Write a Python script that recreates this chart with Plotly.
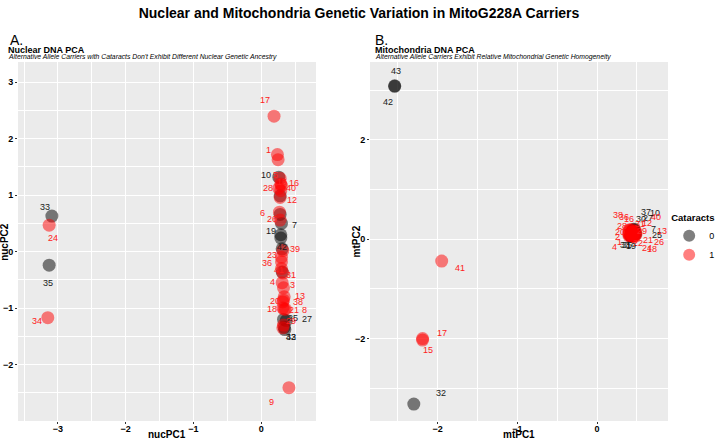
import plotly.graph_objects as go

# ---------------- data ----------------
# Panel A: nuclear PCA (sample id, cataract status, PC1, PC2)
nuc_id  = [17, 1, 2, 10, 5, 15, 16, 28, 40, 11, 12, 6, 37, 26, 7, 19, 14, 42, 39, 23, 36, 41, 31, 30,
           4, 3, 13, 38, 20, 18, 21, 8, 25, 27, 29, 22, 43, 32, 9, 33, 24, 35, 34]
nuc_cat = [1, 1, 1, 0, 1, 1, 1, 1, 1, 0, 1, 1, 0, 1, 0, 0, 0, 0, 1, 1, 1, 1, 1, 0,
           1, 1, 1, 1, 1, 1, 1, 1, 0, 0, 1, 1, 0, 0, 1, 0, 1, 0, 1]
nuc_pc1 = [0.19, 0.24, 0.25, 0.26, 0.28, 0.29, 0.30, 0.26, 0.29, 0.28, 0.28, 0.27, 0.28, 0.28, 0.30, 0.29, 0.29, 0.31, 0.32, 0.30, 0.30, 0.30, 0.32, 0.31,
           0.31, 0.33, 0.34, 0.33, 0.32, 0.32, 0.34, 0.36, 0.33, 0.37, 0.33, 0.32, 0.34, 0.35, 0.41, -3.09, -3.13, -3.13, -3.15]
nuc_pc2 = [2.40, 1.72, 1.63, 1.32, 1.30, 1.20, 1.17, 1.12, 1.08, 0.99, 0.96, 0.70, 0.66, 0.56, 0.50, 0.30, 0.24, 0.05, 0.02, -0.10, -0.18, -0.30, -0.38, -0.36,
           -0.55, -0.64, -0.80, -0.86, -0.89, -1.00, -1.02, -1.02, -1.20, -1.22, -1.30, -1.35, -1.34, -1.38, -2.41, 0.63, 0.47, -0.24, -1.17]
nuc_labeled = [1, 1, 0, 1, 1, 1, 1, 1, 1, 0, 1, 1, 0, 1, 1, 1, 0, 1, 1, 1, 1, 1, 1, 0,
               1, 1, 1, 1, 1, 1, 1, 1, 1, 1, 1, 0, 1, 1, 1, 1, 1, 1, 1]

# Panel B: mitochondrial PCA
mt_id  = [43, 42, 41, 17, 15, 32, 37, 10, 30, 27, 38, 36, 16, 40, 12, 31, 28, 29, 7, 25, 13, 20, 2, 21, 26, 22, 24, 18, 4, 1, 33, 35, 19,
          3, 5, 6, 8, 9, 11, 14, 23, 34, 39]
mt_cat = [0, 0, 1, 1, 1, 0, 0, 0, 0, 0, 1, 1, 1, 1, 1, 1, 1, 1, 0, 0, 1, 1, 1, 1, 1, 1, 1, 1, 1, 1, 0, 0, 0,
          1, 1, 1, 1, 1, 0, 0, 1, 1, 1]
mt_pc1 = [-2.54, -2.54, -1.95, -2.19, -2.19, -2.30, 0.46, 0.47, 0.45, 0.46, 0.40, 0.41, 0.43, 0.48, 0.46, 0.45, 0.40, 0.45, 0.48, 0.48, 0.49,
          0.40, 0.40, 0.46, 0.48, 0.44, 0.45, 0.46, 0.40, 0.41, 0.42, 0.43, 0.43,
          0.44, 0.45, 0.43, 0.44, 0.46, 0.44, 0.45, 0.43, 0.44, 0.45]
mt_pc2 = [3.09, 3.08, -0.44, -2.00, -2.03, -3.32, 0.20, 0.19, 0.18, 0.17, 0.18, 0.19, 0.19, 0.17, 0.15, 0.14, 0.15, 0.12, 0.12, 0.10, 0.11,
          0.12, 0.10, 0.08, 0.08, 0.07, 0.06, 0.05, 0.07, 0.08, 0.07, 0.07, 0.06,
          0.13, 0.12, 0.14, 0.11, 0.13, 0.15, 0.12, 0.10, 0.09, 0.12]
mt_labeled = [1] * 33 + [0] * 10

legend_title = "Cataracts"
cat_names = ["0", "1"]

# ---------------- label placement (pixel nudges, like ggrepel output) ----------------
nuc_lab_dx = [-9, -9, 0, -13, -5, 1, 13, -11, 10, 0, 12, -17, 0, -8, 13, -10, 0, 0, 12, -9, -14, -2, 8, 0,
              -10, 9, 16, 14, -8, -11, 10, 19, 9, 21, 7, 0, 7, 6, -17, -7, 4, -1, -11]
nuc_lab_dy = [16, 5, 0, 2, 3, 2, 3, 0, 3, 0, -3, -1, 0, 1, -2, 4, 0, 2, 2, 2, -1, -1, -2, 0,
              1, 3, 1, -2, 1, -1, -1, -1, 1, 2, 4, 0, -10, -7, -14, 9, -13, -18, -3]
mt_lab_dx = [1, -7, 18, 19, 5, 27, 12, 20, 8, 14, -11, -6, -2, 21, 13, 7, -7, 9, 18, 22, 26, -9, -11, 14, 24, 6, 14, 18, -14, -10, -6, -4, 0,
             0, 0, 0, 0, 0, 0, 0, 0, 0, 0]
mt_lab_dy = [15, -16, -7, 6, -10, 11, 17, 17, 11, 13, 15, 13, 11, 14, 9, 8, 6, 2, 4, -1, 3, 1, -3, -5, -7, -7, -12, -12, -11, -7, -9, -9, -10,
             0, 0, 0, 0, 0, 0, 0, 0, 0, 0]

# ---------------- styling ----------------
FONT = "Liberation Sans, Arial, sans-serif"
PT_COLORS = {0: "black", 1: "red"}
TXT_COLORS = {0: "#1a1a1a", 1: "#ff2020"}

fig = go.Figure()
annotations = []

def add_panel(ids, cats, xs, ys, labeled, dxs, dys, xa, ya, show_legend):
    for c in (0, 1):
        idx = [i for i, v in enumerate(cats) if v == c]
        fig.add_trace(go.Scatter(
            x=[xs[i] for i in idx], y=[ys[i] for i in idx], mode="markers",
            marker=dict(size=13, color=PT_COLORS[c], opacity=0.5, line=dict(width=0)),
            name=cat_names[c], legendgroup=cat_names[c], showlegend=show_legend,
            xaxis=xa, yaxis=ya, hoverinfo="skip"))
    for i in range(len(ids)):
        if not labeled[i]:
            continue
        annotations.append(dict(
            x=xs[i], y=ys[i], xref=xa, yref=ya, text=str(ids[i]), showarrow=False,
            xshift=dxs[i], yshift=dys[i], xanchor="center", yanchor="middle",
            font=dict(size=9, color=TXT_COLORS[cats[i]], family=FONT)))

add_panel(nuc_id, nuc_cat, nuc_pc1, nuc_pc2, nuc_labeled, nuc_lab_dx, nuc_lab_dy, "x", "y", True)
add_panel(mt_id, mt_cat, mt_pc1, mt_pc2, mt_labeled, mt_lab_dx, mt_lab_dy, "x2", "y2", False)

axis_common = dict(
    showgrid=True, gridcolor="white", gridwidth=1.1, zeroline=False,
    ticks="outside", ticklen=2, tickcolor="#333333", tickwidth=1,
    tickfont=dict(size=9, color="black", family=FONT, weight="bold"),
    showline=False, automargin=False,
)

def minor(vals):
    return dict(showgrid=True, gridcolor="white", gridwidth=0.5, tickvals=vals, ticks="")

fig.update_layout(
    width=718, height=440,
    paper_bgcolor="white", plot_bgcolor="#EBEBEB",
    margin=dict(l=18, r=50, t=62, b=19, autoexpand=False),
    font=dict(family=FONT),
    title=dict(text="<b>Nuclear and Mitochondria Genetic Variation in MitoG228A Carriers</b>",
               x=0.5, xref="container", xanchor="center", y=0.97, yref="container", yanchor="middle",
               font=dict(size=14, color="black", family=FONT)),
    xaxis=dict(domain=[0, 0.4585], range=[-3.59, 0.81], tickvals=[-3, -2, -1, 0], ticklabelstandoff=-3,
               minor=minor([-3.5, -2.5, -1.5, -0.5, 0.5]), anchor="y", **axis_common),
    yaxis=dict(domain=[0, 1], range=[-3.0, 3.36], tickvals=[-2, -1, 0, 1, 2, 3],
               minor=minor([-2.5, -1.5, -0.5, 0.5, 1.5, 2.5]), anchor="x", **axis_common),
    xaxis2=dict(domain=[0.5415, 1.0], range=[-2.85, 0.89], tickvals=[-2, -1, 0], ticklabelstandoff=-3,
                minor=minor([-2.5, -1.5, -0.5, 0.5]), anchor="y2", **axis_common),
    yaxis2=dict(domain=[0, 1], range=[-3.66, 3.57], tickvals=[-2, 0, 2],
                minor=minor([-3, -1, 1, 3]), anchor="x2", **axis_common),
    legend=dict(title=dict(text="<b>" + legend_title + "</b>", font=dict(size=9.5, color="black", family=FONT)),
                xref="container", yref="container", x=0.932, xanchor="left", y=0.525, yanchor="top",
                font=dict(size=9, color="black", family=FONT),
                bgcolor="rgba(0,0,0,0)", itemsizing="constant", tracegroupgap=0),
)

hdr = [
    dict(text="A.", x=-0.016, y=1.061, font=dict(size=14, color="black", family=FONT)),
    dict(text="<b>Nuclear DNA PCA</b>", x=-0.018, y=1.034, font=dict(size=9, color="black", family=FONT)),
    dict(text="<i>Alternative Allele Carriers with Cataracts Don't Exhibit Different Nuclear Genetic Ancestry</i>",
         x=-0.018, y=1.013, font=dict(size=6.8, color="black", family=FONT)),
    dict(text="B.", x=0.546, y=1.061, font=dict(size=14, color="black", family=FONT)),
    dict(text="<b>Mitochondria DNA PCA</b>", x=0.546, y=1.034, font=dict(size=9, color="black", family=FONT)),
    dict(text="<i>Alternative Allele Carriers Exhibit Relative Mitochondrial Genetic Homogeneity</i>",
         x=0.546, y=1.013, font=dict(size=6.8, color="black", family=FONT)),
]
for a in hdr:
    annotations.append(dict(xref="paper", yref="paper", xanchor="left", yanchor="middle", showarrow=False, **a))

axis_titles = [
    dict(text="<b>nucPC1</b>", x=0.229, y=-0.038, textangle=0),
    dict(text="<b>mtPC1</b>", x=0.771, y=-0.038, textangle=0),
    dict(text="<b>nucPC2</b>", x=-0.021, y=0.5, textangle=-90),
    dict(text="<b>mtPC2</b>", x=0.5215, y=0.5, textangle=-90),
]
for a in axis_titles:
    annotations.append(dict(xref="paper", yref="paper", xanchor="center", yanchor="middle", showarrow=False,
                            font=dict(size=10, color="black", family=FONT), **a))

fig.update_layout(annotations=annotations)

fig.write_html("out.html", config={"displayModeBar": False},
               post_script="document.body.style.margin='0px';document.body.style.overflow='hidden';")
